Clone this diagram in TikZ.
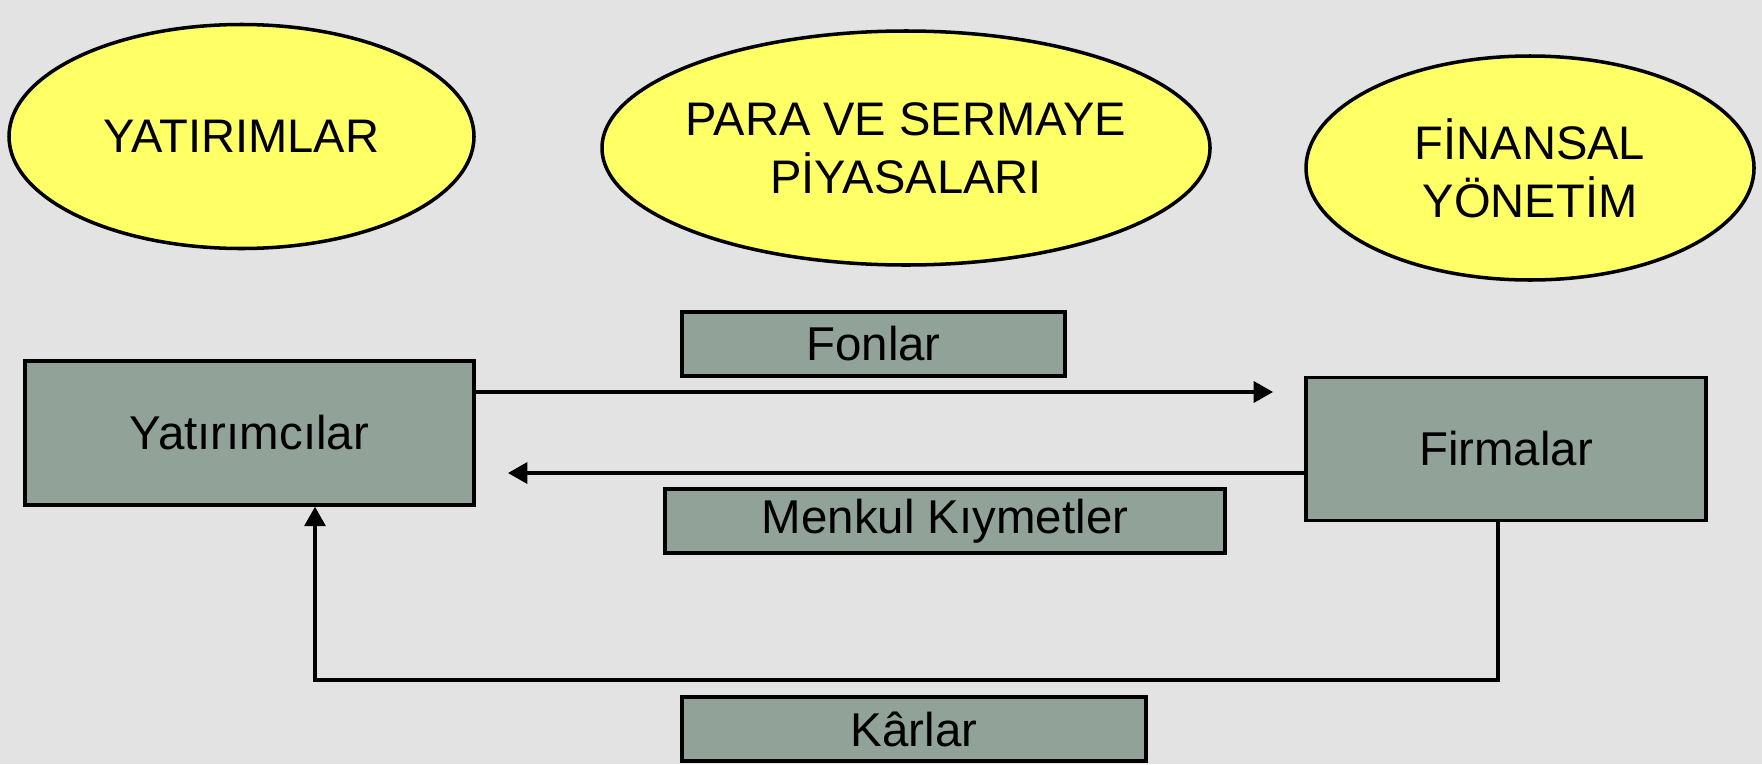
\documentclass[tikz,border=0pt]{standalone}
\usepackage{fontspec}
\setmainfont{Liberation Sans}
\usetikzlibrary{shapes.geometric,arrows.meta}

\definecolor{bgGray}{HTML}{E3E3E3}
\definecolor{ovalYellow}{HTML}{FFFF66}
\definecolor{boxGreen}{HTML}{91A398}

\tikzset{
  oval/.style={ellipse, draw, line width=1pt, fill=ovalYellow, inner ysep=0pt, inner xsep=-0.5cm,
    align=center, font=\fontsize{13.4}{16.5}\selectfont},
  actor/.style={rectangle, draw, line width=1pt, fill=boxGreen, inner sep=0pt,
    font=\fontsize{13.5}{16.5}\selectfont},
  flowlabel/.style={rectangle, draw, line width=1pt, fill=boxGreen, inner sep=0pt,
    minimum height=0.64cm, font=\fontsize{13.5}{16.5}\selectfont},
  flow/.style={line width=0.9pt, -{Triangle[length=5.5pt, width=6pt]}}
}

\begin{document}
\begin{tikzpicture}
  % Background
  \fill[bgGray] (0,0) rectangle (17.62,7.64);
  \useasboundingbox (0,0) rectangle (17.62,7.64);
  % Nodes
  \node (yatirimlar) [oval, minimum width=4.65cm, minimum height=2.24cm] at (2.415, 6.275) {YATIRIMLAR};
  \node (piyasalar) [oval, minimum width=6.08cm, minimum height=2.34cm] at (9.06, 6.16) {PARA VE SERMAYE\\PİYASALARI};
  \node (yonetim) [oval, minimum width=4.48cm, minimum height=2.24cm] at (15.30, 5.96) {FİNANSAL\\YÖNETİM};
  \node (yatirimcilar) [actor, minimum width=4.49cm, minimum height=1.44cm] at (2.495, 3.31) {Yatırımcılar};
  \node (firmalar) [actor, minimum width=4.00cm, minimum height=1.43cm] at (15.06, 3.15) {Firmalar};
  \node (fonlar) [flowlabel, minimum width=3.83cm] at (8.735, 4.20) {Fonlar};
  \node (menkul) [flowlabel, minimum width=5.60cm] at (9.45, 2.43) {Menkul Kıymetler};
  \node (karlar) [flowlabel, minimum width=4.64cm] at (9.14, 0.35) {Kârlar};
  \coordinate (fon-end) at (12.73, 3.72);
  \coordinate (menkul-end) at (5.08, 2.91);
  \coordinate (kar-right) at (14.98, 0.84);
  \coordinate (kar-left) at (3.15, 0.84);
  % Arrow
  \draw[flow] (yatirimcilar.east |- fon-end) -- (fon-end);
  \draw[flow] (firmalar.west |- menkul-end) -- (menkul-end);
  \draw[flow] (firmalar.south -| kar-right) -- (kar-right) -- (kar-left) -- (yatirimcilar.south -| kar-left);
\end{tikzpicture}
\end{document}
